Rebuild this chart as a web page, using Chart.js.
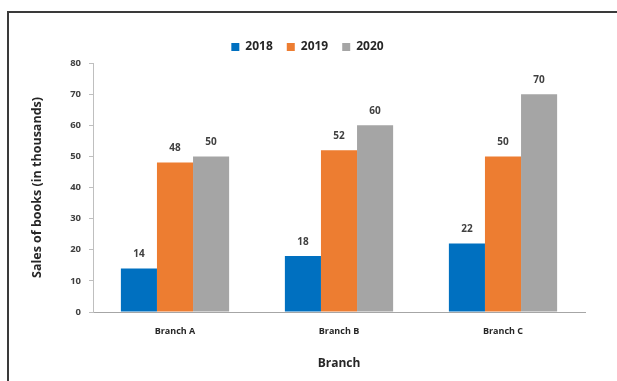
<!DOCTYPE html>
<html>
<head>
<meta charset="utf-8">
<script src="https://cdn.jsdelivr.net/npm/chart.js@4"></script>
<style>
  html, body { margin: 0; padding: 0; background: #fff; }
  #wrap { position: relative; width: 617px; height: 381px; overflow: hidden; }
  #frame { position: absolute; left: 7px; top: 11px; right: -4px; bottom: -4px; border-left: 2px solid #3a3a3a; border-top: 2px solid #3a3a3a; }
  canvas { position: absolute; left: 0; top: 0; }
</style>
</head>
<body>
<div id="wrap">
  <div id="frame"></div>
  <canvas id="c" width="617" height="381"></canvas>
</div>
<script>
const categories = ["Branch A", "Branch B", "Branch C"];
const seriesNames = ["2018", "2019", "2020"];
const sales2018 = [14, 18, 22];
const sales2019 = [48, 52, 50];
const sales2020 = [50, 60, 70];
const yTicks = [0, 10, 20, 30, 40, 50, 60, 70, 80];

const FONT = "'Open Sans', 'Liberation Sans', sans-serif";

const valueLabels = {
  id: 'valueLabels',
  afterDatasetsDraw(chart) {
    const ctx = chart.ctx;
    ctx.save();
    ctx.font = "bold 10px " + FONT;
    ctx.fillStyle = '#404040';
    ctx.textAlign = 'center';
    ctx.textBaseline = 'middle';
    chart.data.datasets.forEach((ds, i) => {
      const meta = chart.getDatasetMeta(i);
      meta.data.forEach((el, j) => {
        ctx.fillText(String(ds.data[j]), el.x, el.y - 14);
      });
    });
    ctx.restore();
  }
};

new Chart(document.getElementById('c'), {
  type: 'bar',
  data: {
    labels: categories,
    datasets: [
      { label: seriesNames[0], data: sales2018, backgroundColor: '#0070C0' },
      { label: seriesNames[1], data: sales2019, backgroundColor: '#ED7D31' },
      { label: seriesNames[2], data: sales2020, backgroundColor: '#A5A5A5' }
    ]
  },
  options: {
    responsive: false,
    animation: false,
    devicePixelRatio: 1,
    layout: { padding: { top: 27, right: 32, left: 30, bottom: 10 } },
    datasets: { bar: { categoryPercentage: 0.66, barPercentage: 1.0 } },
    plugins: {
      legend: {
        position: 'top',
        labels: {
          boxWidth: 8, boxHeight: 8, padding: 14,
          color: '#262626',
          font: { family: FONT, size: 12, weight: 'bold' }
        }
      },
      tooltip: { enabled: false }
    },
    scales: {
      x: {
        grid: { display: false, drawTicks: false },
        border: { color: '#a6a6a6', width: 1 },
        ticks: { color: '#262626', padding: 14, font: { family: FONT, size: 9, weight: 'bold' } },
        title: { display: true, text: 'Branch', color: '#262626', padding: { top: 10, bottom: 0 }, font: { family: FONT, size: 12, weight: 'bold' } },
        afterFit(s) { s.height = 59; }
      },
      y: {
        min: 0, max: 80,
        afterBuildTicks(s) { s.ticks = yTicks.map(v => ({ value: v })); },
        grid: { drawOnChartArea: false, drawTicks: true, tickLength: 4, color: '#bfbfbf' },
        border: { color: '#bfbfbf', width: 1 },
        ticks: { color: '#404040', padding: 8, font: { family: FONT, size: 9.5, weight: 'bold' } },
        title: { display: true, text: 'Sales of books (in thousands)', color: '#262626', padding: 0, font: { family: FONT, size: 12.5, weight: 'bold' } },
        afterFit(s) { s.width = 63; }
      }
    }
  },
  plugins: [valueLabels]
});
</script>
</body>
</html>
